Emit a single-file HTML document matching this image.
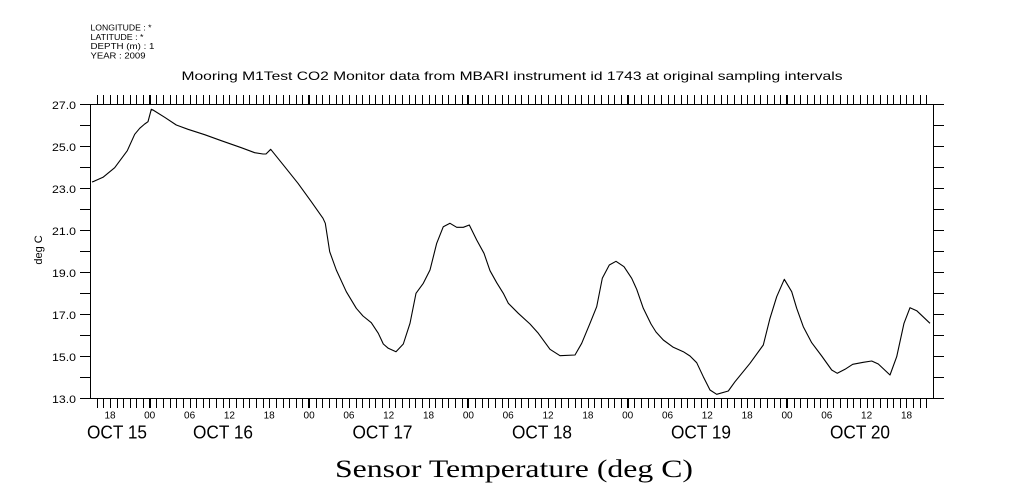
<!DOCTYPE html>
<html>
<head>
<meta charset="utf-8">
<style>
html,body{margin:0;padding:0;background:#fff;}
body{width:1009px;height:504px;overflow:hidden;}
svg{display:block;}
text{fill:#000;}
.s{font-family:"Liberation Sans",sans-serif;}
.r{font-family:"Liberation Serif",serif;}
</style>
</head>
<body>
<svg width="1009" height="504" viewBox="0 0 1009 504" xmlns="http://www.w3.org/2000/svg">
<rect width="1009" height="504" fill="#fff"/>

<!-- header -->
<g class="s" font-size="8.5">
<text x="90.5" y="30.5" textLength="61" lengthAdjust="spacingAndGlyphs">LONGITUDE : *</text>
<text x="90.5" y="39.8" textLength="53" lengthAdjust="spacingAndGlyphs">LATITUDE : *</text>
<text x="90.5" y="49" textLength="64" lengthAdjust="spacingAndGlyphs">DEPTH (m) : 1</text>
<text x="90.5" y="58.3" textLength="55" lengthAdjust="spacingAndGlyphs">YEAR : 2009</text>
</g>
<text class="s" x="181.5" y="80" font-size="12" textLength="661" lengthAdjust="spacingAndGlyphs">Mooring M1Test CO2 Monitor data from MBARI instrument id 1743 at original sampling intervals</text>

<!-- frame -->
<g stroke="#000" stroke-width="1" fill="none" shape-rendering="crispEdges">
<rect x="90.5" y="104.5" width="843" height="294"/>
<!-- left y ticks -->
<path d="M80 104.5h10M80 125.5h10M80 146.5h10M80 167.5h10M80 188.5h10M80 209.5h10M80 230.5h10M80 251.5h10M80 272.5h10M80 293.5h10M80 314.5h10M80 335.5h10M80 356.5h10M80 377.5h10M80 398.5h10"/>
<!-- right y ticks -->
<path d="M934 104.5h10M934 125.5h10M934 146.5h10M934 167.5h10M934 188.5h10M934 209.5h10M934 230.5h10M934 251.5h10M934 272.5h10M934 293.5h10M934 314.5h10M934 335.5h10M934 356.5h10M934 377.5h10M934 398.5h10"/>
<!-- top x ticks -->
<path d="M97.5 95v9M103.5 95v9M110.5 95v9M117.5 95v9M123.5 95v9M130.5 95v9M136.5 95v9M143.5 95v9M150.5 95v9M156.5 95v9M163.5 95v9M170.5 95v9M176.5 95v9M183.5 95v9M190.5 95v9M196.5 95v9M203.5 95v9M209.5 95v9M216.5 95v9M223.5 95v9M229.5 95v9M236.5 95v9M243.5 95v9M249.5 95v9M256.5 95v9M263.5 95v9M269.5 95v9M276.5 95v9M283.5 95v9M289.5 95v9M296.5 95v9M302.5 95v9M309.5 95v9M316.5 95v9M322.5 95v9M329.5 95v9M336.5 95v9M342.5 95v9M349.5 95v9M356.5 95v9M362.5 95v9M369.5 95v9M375.5 95v9M382.5 95v9M389.5 95v9M395.5 95v9M402.5 95v9M409.5 95v9M415.5 95v9M422.5 95v9M429.5 95v9M435.5 95v9M442.5 95v9M448.5 95v9M455.5 95v9M462.5 95v9M468.5 95v9M475.5 95v9M482.5 95v9M488.5 95v9M495.5 95v9M502.5 95v9M508.5 95v9M515.5 95v9M521.5 95v9M528.5 95v9M535.5 95v9M541.5 95v9M548.5 95v9M555.5 95v9M561.5 95v9M568.5 95v9M575.5 95v9M581.5 95v9M588.5 95v9M594.5 95v9M601.5 95v9M608.5 95v9M614.5 95v9M621.5 95v9M628.5 95v9M634.5 95v9M641.5 95v9M648.5 95v9M654.5 95v9M661.5 95v9M668.5 95v9M674.5 95v9M681.5 95v9M687.5 95v9M694.5 95v9M701.5 95v9M707.5 95v9M714.5 95v9M721.5 95v9M727.5 95v9M734.5 95v9M741.5 95v9M747.5 95v9M754.5 95v9M760.5 95v9M767.5 95v9M774.5 95v9M780.5 95v9M787.5 95v9M794.5 95v9M800.5 95v9M807.5 95v9M814.5 95v9M820.5 95v9M827.5 95v9M833.5 95v9M840.5 95v9M847.5 95v9M853.5 95v9M860.5 95v9M867.5 95v9M873.5 95v9M880.5 95v9M887.5 95v9M893.5 95v9M900.5 95v9M906.5 95v9M913.5 95v9M920.5 95v9M926.5 95v9"/>
<!-- bottom x ticks -->
<path d="M97.5 399v9M103.5 399v9M110.5 399v9M117.5 399v9M123.5 399v9M130.5 399v9M136.5 399v9M143.5 399v9M150.5 399v9M156.5 399v9M163.5 399v9M170.5 399v9M176.5 399v9M183.5 399v9M190.5 399v9M196.5 399v9M203.5 399v9M209.5 399v9M216.5 399v9M223.5 399v9M229.5 399v9M236.5 399v9M243.5 399v9M249.5 399v9M256.5 399v9M263.5 399v9M269.5 399v9M276.5 399v9M283.5 399v9M289.5 399v9M296.5 399v9M302.5 399v9M309.5 399v9M316.5 399v9M322.5 399v9M329.5 399v9M336.5 399v9M342.5 399v9M349.5 399v9M356.5 399v9M362.5 399v9M369.5 399v9M375.5 399v9M382.5 399v9M389.5 399v9M395.5 399v9M402.5 399v9M409.5 399v9M415.5 399v9M422.5 399v9M429.5 399v9M435.5 399v9M442.5 399v9M448.5 399v9M455.5 399v9M462.5 399v9M468.5 399v9M475.5 399v9M482.5 399v9M488.5 399v9M495.5 399v9M502.5 399v9M508.5 399v9M515.5 399v9M521.5 399v9M528.5 399v9M535.5 399v9M541.5 399v9M548.5 399v9M555.5 399v9M561.5 399v9M568.5 399v9M575.5 399v9M581.5 399v9M588.5 399v9M594.5 399v9M601.5 399v9M608.5 399v9M614.5 399v9M621.5 399v9M628.5 399v9M634.5 399v9M641.5 399v9M648.5 399v9M654.5 399v9M661.5 399v9M668.5 399v9M674.5 399v9M681.5 399v9M687.5 399v9M694.5 399v9M701.5 399v9M707.5 399v9M714.5 399v9M721.5 399v9M727.5 399v9M734.5 399v9M741.5 399v9M747.5 399v9M754.5 399v9M760.5 399v9M767.5 399v9M774.5 399v9M780.5 399v9M787.5 399v9M794.5 399v9M800.5 399v9M807.5 399v9M814.5 399v9M820.5 399v9M827.5 399v9M833.5 399v9M840.5 399v9M847.5 399v9M853.5 399v9M860.5 399v9M867.5 399v9M873.5 399v9M880.5 399v9M887.5 399v9M893.5 399v9M900.5 399v9M906.5 399v9M913.5 399v9M920.5 399v9M926.5 399v9"/>
<!-- thick midnight ticks -->
<path d="M149.5 95v9M308.5 95v9M467.5 95v9M627.5 95v9M786.5 95v9M149.5 399v9M308.5 399v9M467.5 399v9M627.5 399v9M786.5 399v9"/>
</g>

<!-- y labels -->
<g class="s" font-size="11" text-anchor="end">
<text x="76" y="109" textLength="24" lengthAdjust="spacingAndGlyphs">27.0</text>
<text x="76" y="151" textLength="24" lengthAdjust="spacingAndGlyphs">25.0</text>
<text x="76" y="193" textLength="24" lengthAdjust="spacingAndGlyphs">23.0</text>
<text x="76" y="235" textLength="24" lengthAdjust="spacingAndGlyphs">21.0</text>
<text x="76" y="277" textLength="24" lengthAdjust="spacingAndGlyphs">19.0</text>
<text x="76" y="319" textLength="24" lengthAdjust="spacingAndGlyphs">17.0</text>
<text x="76" y="361" textLength="24" lengthAdjust="spacingAndGlyphs">15.0</text>
<text x="76" y="403" textLength="24" lengthAdjust="spacingAndGlyphs">13.0</text>
</g>
<text class="s" font-size="11" text-anchor="middle" transform="translate(42,250) rotate(-90)">deg C</text>

<!-- x hour labels -->
<g class="s" font-size="10" text-anchor="middle">
<text x="110" y="418.5">18</text>
<text x="149.7" y="418.5">00</text>
<text x="189.6" y="418.5">06</text>
<text x="229.4" y="418.5">12</text>
<text x="269.2" y="418.5">18</text>
<text x="309.1" y="418.5">00</text>
<text x="348.9" y="418.5">06</text>
<text x="388.7" y="418.5">12</text>
<text x="428.5" y="418.5">18</text>
<text x="468.4" y="418.5">00</text>
<text x="508.2" y="418.5">06</text>
<text x="548" y="418.5">12</text>
<text x="587.9" y="418.5">18</text>
<text x="627.7" y="418.5">00</text>
<text x="667.5" y="418.5">06</text>
<text x="707.3" y="418.5">12</text>
<text x="747.2" y="418.5">18</text>
<text x="787" y="418.5">00</text>
<text x="826.8" y="418.5">06</text>
<text x="866.6" y="418.5">12</text>
<text x="906.5" y="418.5">18</text>
</g>

<!-- day labels -->
<g class="s" font-size="18" text-anchor="middle">
<text x="117" y="438.5" textLength="60" lengthAdjust="spacingAndGlyphs">OCT 15</text>
<text x="223" y="438.5" textLength="60" lengthAdjust="spacingAndGlyphs">OCT 16</text>
<text x="382.5" y="438.5" textLength="60" lengthAdjust="spacingAndGlyphs">OCT 17</text>
<text x="542" y="438.5" textLength="60" lengthAdjust="spacingAndGlyphs">OCT 18</text>
<text x="701" y="438.5" textLength="60" lengthAdjust="spacingAndGlyphs">OCT 19</text>
<text x="860" y="438.5" textLength="60" lengthAdjust="spacingAndGlyphs">OCT 20</text>
</g>

<!-- main axis title -->
<text class="r" x="335" y="477" font-size="25" textLength="358" lengthAdjust="spacingAndGlyphs">Sensor Temperature (deg C)</text>

<!-- data -->
<polyline fill="none" stroke="#000" stroke-width="1.1" stroke-linejoin="round" points="
92,182 94,181.3 103,177.3 114.7,167.7 127.3,150.7 134.7,134.3 139.7,128.3 144.7,124 148,121.7 151.3,109.3 153,110
164.7,117.3 176.3,125 188,129.3 204.7,134.7 221.3,140.7 241.3,147.7 254.7,152.7 263,154 266,154 270.7,149.3
284.7,166.7 298,183.3 311.3,201.7 323,218.3 325.3,223.3 329.7,251.7 336.3,270 346.3,291.7 356.3,308.3 363,316
371.3,322.7 378.3,333.3 383.3,344 388.3,348.3 396,351.7 403.3,344 410,323.3 416,293.3 423.3,283.3 430,270
436.7,243.3 443.3,226.7 450,223.3 456.7,227.3 463.3,227.3 469.3,225 476.7,240 484,253.3 490,270.7 496.7,282.7
503.3,293.3 508.3,303.3 518.3,313.3 530,324 538.3,333.3 550,349.3 560,355.7 575,355 581.7,343.3 590,323.3
596.7,306.7 602.3,278.3 609.3,265 616,261.3 624,266.7 631.7,278.3 636.7,289.3 643.3,308.3 651,324
656,332 663.3,340 673.3,347.3 683.3,351.7 690,356 696.7,362.7 703.3,376.7 710,390 716.7,394.3 728.3,391 735,381.7
750,363.3 763.3,345 770,318.3 776.7,296.7 784.3,279.3 791.7,291.7 796.7,308.3 803.3,326.7 811.7,342.7 821.7,356
831.7,370 837.3,373.3 845,369.3 852.7,364.3 863.3,362.3 871.7,361 878.3,364 890,375 896.7,356.7 904,323.3
910,307.7 916.7,310.7 930,323.3"/>
</svg>
</body>
</html>
